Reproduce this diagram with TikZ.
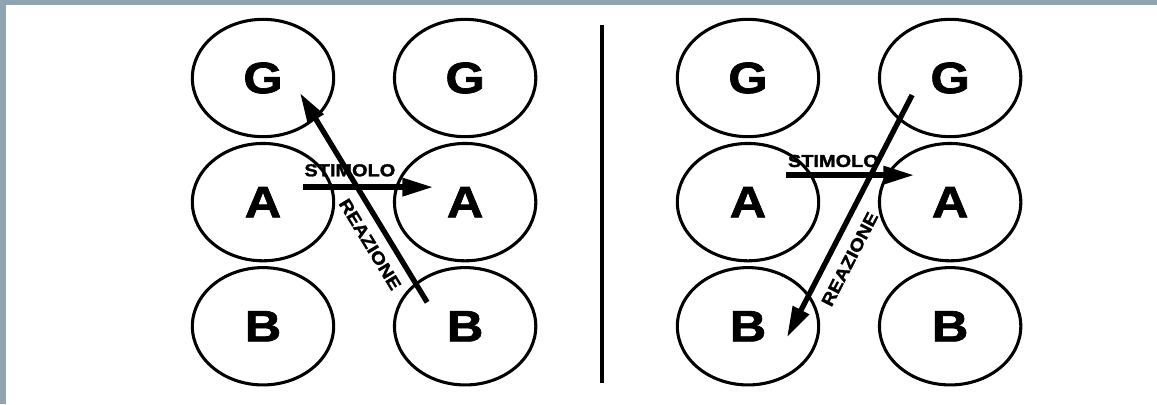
\documentclass[tikz,border=0pt]{standalone}
\usepackage{fontspec}
\usepackage{tikz}
\usetikzlibrary{arrows.meta, positioning, shapes.geometric}
\newfontfamily\diafont{Liberation Sans}[FakeStretch=1.15, FakeBold=1.5]
\definecolor{framegray}{HTML}{8EA4B1}

\begin{document}
\begin{tikzpicture}[x=0.75pt, y=-0.75pt,
  cell/.style={draw, ellipse, line width=2.3pt, minimum width=106pt, minimum height=88pt, inner sep=0pt, font=\diafont\bfseries\fontsize{33}{33}\selectfont},
  arrow/.style={-{Triangle[length=23pt, width=13pt]}, line width=4pt},
  backarrow/.style={{Triangle[length=23pt, width=13pt]}-, line width=4pt},
  arrowtext/.style={font=\diafont\bfseries\fontsize{13}{13}\selectfont, inner sep=0pt},
]

% Frame
\useasboundingbox (0,0) rectangle (1157,404);
\fill[framegray] (0,0) rectangle (1157,5);
\fill[framegray] (0,0) rectangle (6,404);

% Left panel
\node[cell] (lg1) at (263,78) {G};
\node[cell, below=2.8pt of lg1] (la1) {A};
\node[cell, below=2.8pt of la1] (lb1) {B};
\node[cell, right=43.3pt of lg1] (lg2) {G};
\node[cell, right=43.3pt of la1] (la2) {A};
\node[cell, right=43.3pt of lb1] (lb2) {B};

% Divider
\draw[line width=3pt] (602,25) -- (602,383);

% Right panel
\node[cell] (rg1) at (748,78) {G};
\node[cell, below=2.8pt of rg1] (ra1) {A};
\node[cell, below=2.8pt of ra1] (rb1) {B};
\node[cell, right=43.3pt of rg1] (rg2) {G};
\node[cell, right=43.3pt of ra1] (ra2) {A};
\node[cell, right=43.3pt of rb1] (rb2) {B};

% Arrows
\draw[arrow] ([shift={(40,-15)}]la1.center) -- node[arrowtext, above=6pt, pos=0.36] {STIMOLO} ([shift={(-32,-15)}]la2.center);
\draw[backarrow] ([shift={(37,15)}]lg1.center) -- node[arrowtext, sloped, below=7.4pt, pos=0.677] {REAZIONE} ([shift={(-38,-24)}]lb2.center);

\draw[arrow] ([shift={(38,-27)}]ra1.center) -- node[arrowtext, above=4pt, pos=0.37] {STIMOLO} ([shift={(-36,-27)}]ra2.center);
\draw[backarrow] ([shift={(39,11)}]rb1.center) -- node[arrowtext, sloped, below=8.3pt, pos=0.36] {REAZIONE} ([shift={(-38,17)}]rg2.center);

\end{tikzpicture}
\end{document}
